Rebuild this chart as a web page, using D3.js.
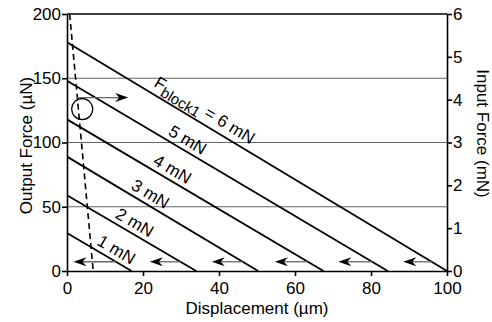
<!DOCTYPE html>
<html>
<head>
<meta charset="utf-8">
<script src="https://cdn.jsdelivr.net/npm/d3@7"></script>
<style>
  body { margin: 0; background: #fff; }
  svg { font-family: "Liberation Sans", Arial, sans-serif; }
</style>
</head>
<body>
<svg id="chart" width="492" height="322"></svg>
<script>
// load lines: output force at zero displacement and free displacement at zero force
var inputForces = [1, 2, 3, 4, 5, 6];
var blockedOutput = [29.6, 59, 89, 118, 148, 178];
var freeDisplacement = [17, 34, 50.3, 67.5, 84.4, 100];
var lineLabels = ["1 mN", "2 mN", "3 mN", "4 mN", "5 mN", "6 mN"];
var labelAt = [11.6, 16.4, 20.5, 26.3, 30.3, 34.5];

var xTicks = [0, 20, 40, 60, 80, 100];
var yTicks = [0, 50, 100, 150, 200];
var y2Ticks = [0, 1, 2, 3, 4, 5, 6];
var gridValues = [50, 100, 150];

var loadLine = [[0.7, 200], [6.9, 0]];
var returnArrowY = 7.2;
var returnArrowTip = [1.7, 21.8, 38.1, 54.7, 71.4, 88.5];
var pushArrow = [[2.6, 135], [16.1, 135]];
var circlePoint = [4, 126];

var margin = {top: 14, right: 45, bottom: 51, left: 67};
var W = 492, H = 322;
var width = W - margin.left - margin.right;
var height = H - margin.top - margin.bottom;

var svg = d3.select('#chart');
var g = svg.append('g').attr('transform', `translate(${margin.left},${margin.top})`);

var x = d3.scaleLinear().domain([0, 100]).range([0, width]);
var y = d3.scaleLinear().domain([0, 200]).range([height, 0]);
var y2 = d3.scaleLinear().domain([0, 6]).range([height, 0]);

// gridlines
g.selectAll('.grid').data(gridValues).enter().append('line')
  .attr('x1', 0).attr('x2', width)
  .attr('y1', d => y(d)).attr('y2', d => y(d))
  .attr('stroke', '#666').attr('stroke-width', 1);

// load lines
g.selectAll('.load').data(inputForces).enter().append('line')
  .attr('x1', x(0)).attr('y1', (d, i) => y(blockedOutput[i]))
  .attr('x2', (d, i) => x(freeDisplacement[i])).attr('y2', y(0))
  .attr('stroke', '#000').attr('stroke-width', 1.8);

// dashed line
g.append('path')
  .attr('d', d3.line().x(d => x(d[0])).y(d => y(d[1]))(loadLine))
  .attr('fill', 'none').attr('stroke', '#000').attr('stroke-width', 1.6)
  .attr('stroke-dasharray', '6,4');

function arrowHead(px, py, dir) {
  // dir: 1 points right, -1 points left
  var L = 13, w = 4.5, n = 9;
  return `M${px},${py} L${px - dir * L},${py - w} L${px - dir * n},${py} L${px - dir * L},${py + w} Z`;
}

// return arrows (pointing left)
inputForces.forEach(function (f, i) {
  var tail = freeDisplacement[i] * (1 - returnArrowY / blockedOutput[i]);
  var yy = y(returnArrowY);
  g.append('line')
    .attr('x1', x(tail)).attr('x2', x(returnArrowTip[i]) + 8)
    .attr('y1', yy).attr('y2', yy)
    .attr('stroke', '#666').attr('stroke-width', 1.3);
  g.append('path').attr('d', arrowHead(x(returnArrowTip[i]), yy, -1)).attr('fill', '#000');
});

// push arrow
g.append('line')
  .attr('x1', x(pushArrow[0][0])).attr('x2', x(pushArrow[1][0]) - 8)
  .attr('y1', y(pushArrow[0][1])).attr('y2', y(pushArrow[1][1]))
  .attr('stroke', '#666').attr('stroke-width', 1.3);
g.append('path').attr('d', arrowHead(x(pushArrow[1][0]), y(pushArrow[1][1]), 1)).attr('fill', '#000');

g.append('circle')
  .attr('cx', x(circlePoint[0])).attr('cy', y(circlePoint[1])).attr('r', 10.5)
  .attr('fill', 'none').attr('stroke', '#000').attr('stroke-width', 1.2);

// line labels
inputForces.forEach(function (f, i) {
  var ang = Math.atan2(y(0) - y(blockedOutput[i]), x(freeDisplacement[i]) - x(0)) * 180 / Math.PI;
  var lx = labelAt[i];
  var ly = blockedOutput[i] * (1 - lx / freeDisplacement[i]);
  var t = g.append('text')
    .attr('transform', `translate(${x(lx)},${y(ly)}) rotate(${ang})`)
    .attr('text-anchor', 'middle')
    .attr('dy', -5)
    .attr('font-size', 17);
  if (i === inputForces.length - 1) {
    t.attr('dy', -7);
    t.append('tspan').text('F');
    t.append('tspan').attr('font-size', 15).attr('dy', 5).text('block1');
    t.append('tspan').attr('dy', -5).text(' = ' + lineLabels[i]);
  } else {
    t.text(lineLabels[i]);
  }
});

// axes
var axisL = g.append('g')
  .call(d3.axisLeft(y).tickValues(yTicks).tickSize(5).tickSizeOuter(0).tickPadding(1));
var axisR = g.append('g').attr('transform', `translate(${width},0)`)
  .call(d3.axisRight(y2).tickValues(y2Ticks).tickFormat(d3.format('d'))
    .tickSize(5).tickSizeOuter(0).tickPadding(1));
var axisB = g.append('g').attr('transform', `translate(0,${height})`)
  .call(d3.axisBottom(x).tickValues(xTicks).tickSize(5).tickSizeOuter(0).tickPadding(6));

[axisL, axisR, axisB].forEach(function (a) {
  a.selectAll('path,line').attr('stroke', '#000').attr('stroke-width', 1.6);
  a.selectAll('text').attr('font-size', 17).attr('fill', '#000')
    .attr('font-family', '"Liberation Sans", Arial, sans-serif');
});

g.append('line').attr('x1', 0).attr('x2', width).attr('y1', 0).attr('y2', 0)
  .attr('stroke', '#000').attr('stroke-width', 1.6);

// axis titles
g.append('text')
  .attr('transform', `translate(-35,${height / 2 + 3}) rotate(-90)`)
  .attr('text-anchor', 'middle').attr('font-size', 17)
  .text('Output Force (µN)');

g.append('text')
  .attr('transform', `translate(${width + 30},${height / 2 - 9}) rotate(90)`)
  .attr('text-anchor', 'middle').attr('font-size', 17)
  .text('Input Force (mN)');

g.append('text')
  .attr('x', width / 2).attr('y', height + 43)
  .attr('text-anchor', 'middle').attr('font-size', 17)
  .text('Displacement (µm)');
</script>
</body>
</html>
